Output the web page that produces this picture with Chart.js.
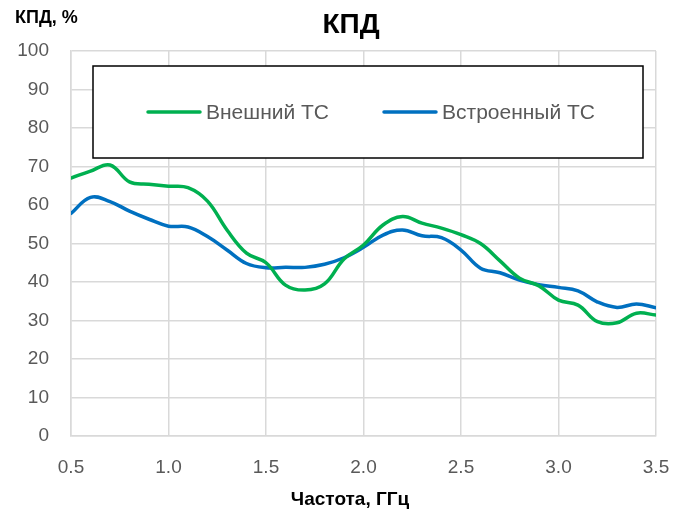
<!DOCTYPE html>
<html>
<head>
<meta charset="utf-8">
<script src="https://cdn.jsdelivr.net/npm/chart.js@4"></script>
<style>
    html, body { margin: 0; padding: 0; background: #fff; }
    #wrap { width: 686px; height: 516px; }
</style>
</head>
<body>
<div id="wrap"><canvas id="effChart" width="686" height="516"></canvas></div>
<script>
// частота, ГГц
const freq = [0.5, 0.6, 0.7, 0.8, 0.9, 1.0, 1.1, 1.2, 1.3, 1.4, 1.5, 1.6, 1.7, 1.8, 1.9, 2.0,
              2.1, 2.2, 2.3, 2.4, 2.5, 2.6, 2.7, 2.8, 2.9, 3.0, 3.1, 3.2, 3.3, 3.4, 3.5];
// КПД, %
const extTc = [67.0, 68.8, 70.4, 66.0, 65.4, 64.9, 64.5, 61.0, 53.5, 47.5, 45.0, 39.2, 37.9, 39.5, 46.0, 49.6,
               54.8, 57.0, 55.3, 54.0, 52.3, 50.0, 45.5, 41.0, 39.0, 35.3, 34.0, 29.7, 29.4, 31.9, 31.4];
const intTc = [57.8, 62.0, 60.9, 58.4, 56.3, 54.5, 54.3, 51.8, 48.3, 44.8, 43.7, 43.8, 43.8, 44.6, 46.3, 49.0,
               52.2, 53.5, 52.0, 51.5, 48.3, 43.6, 42.4, 40.5, 39.3, 38.6, 37.7, 34.8, 33.4, 34.3, 33.3];
const seriesNames = ['Внешний ТС', 'Встроенный ТС'];
const seriesColors = ['#00b050', '#0070c0'];
const yTicks = [0, 10, 20, 30, 40, 50, 60, 70, 80, 90, 100];
const xTicks = [0.5, 1.0, 1.5, 2.0, 2.5, 3.0, 3.5];

const FONT = "'Liberation Sans', Arial, sans-serif";

function points(ys) {
    return freq.map((f, i) => ({ x: f, y: ys[i] }));
}

// заголовки и легенда внутри области графика
const decorations = {
    id: 'decorations',
    afterDraw(chart) {
        const ctx = chart.ctx;
        ctx.save();
        ctx.fillStyle = '#000';
        ctx.textBaseline = 'middle';

        ctx.font = 'bold 28px ' + FONT;
        ctx.textAlign = 'center';
        ctx.fillText('КПД', 351, 25);

        ctx.font = 'bold 18px ' + FONT;
        ctx.textAlign = 'left';
        ctx.fillText('КПД, %', 15, 18);

        ctx.font = 'bold 19px ' + FONT;
        ctx.textAlign = 'center';
        ctx.fillText('Частота, ГГц', 350, 500);

        // рамка легенды
        ctx.fillStyle = '#fff';
        ctx.fillRect(93, 66, 550, 92);
        ctx.strokeStyle = '#000';
        ctx.lineWidth = 1.5;
        ctx.strokeRect(93, 66, 550, 92);

        const starts = [148, 384];
        chart.data.datasets.forEach((ds, i) => {
            const x0 = starts[i];
            ctx.strokeStyle = ds.borderColor;
            ctx.lineWidth = 3.5;
            ctx.lineCap = 'round';
            ctx.beginPath();
            ctx.moveTo(x0, 112);
            ctx.lineTo(x0 + 52, 112);
            ctx.stroke();
            ctx.fillStyle = '#595959';
            ctx.font = '21px ' + FONT;
            ctx.textAlign = 'left';
            ctx.fillText(ds.label, x0 + 58, 113);
        });
        ctx.restore();
    }
};

new Chart(document.getElementById('effChart'), {
    type: 'line',
    data: {
        datasets: [
            { label: seriesNames[0], data: points(extTc), borderColor: seriesColors[0] },
            { label: seriesNames[1], data: points(intTc), borderColor: seriesColors[1] }
        ]
    },
    options: {
        responsive: false,
        animation: false,
        layout: { padding: { top: 51, right: 30, bottom: 0, left: 0 } },
        elements: {
            line: { borderWidth: 3.5, tension: 0.4, fill: false, borderCapStyle: 'round' },
            point: { radius: 0 }
        },
        plugins: {
            legend: { display: false },
            title: { display: false },
            tooltip: { enabled: false }
        },
        scales: {
            x: {
                type: 'linear',
                min: xTicks[0],
                max: xTicks[xTicks.length - 1],
                afterBuildTicks: s => { s.ticks = xTicks.map(v => ({ value: v })); },
                afterFit: s => {
                    s.height = 80;
                    s.paddingLeft = 0;
                    s.paddingRight = 0;
                },
                ticks: {
                    callback: v => v.toFixed(1),
                    color: '#595959',
                    font: { family: FONT, size: 19 },
                    padding: 20,
                    maxRotation: 0
                },
                grid: { color: '#d9d9d9', lineWidth: 1.5, drawTicks: false },
                border: { color: '#d9d9d9', width: 1.5 }
            },
            y: {
                min: 0,
                max: 100,
                afterBuildTicks: s => {
                    const t = [];
                    for (let v = 0; v <= 100; v += 5) t.push({ value: v });
                    s.ticks = t;
                },
                afterFit: s => {
                    s.width = 71;
                    s.paddingTop = 0;
                    s.paddingBottom = 0;
                },
                ticks: {
                    callback: v => (yTicks.includes(v) ? String(v) : ''),
                    color: '#595959',
                    font: { family: FONT, size: 19 },
                    padding: 22
                },
                grid: {
                    color: c => (c.tick && c.tick.value % 10 === 0 ? '#d9d9d9' : '#ebebeb'),
                    lineWidth: 1.5,
                    drawTicks: false
                },
                border: { color: '#d9d9d9', width: 1.5 }
            }
        }
    },
    plugins: [decorations]
});
</script>
</body>
</html>
